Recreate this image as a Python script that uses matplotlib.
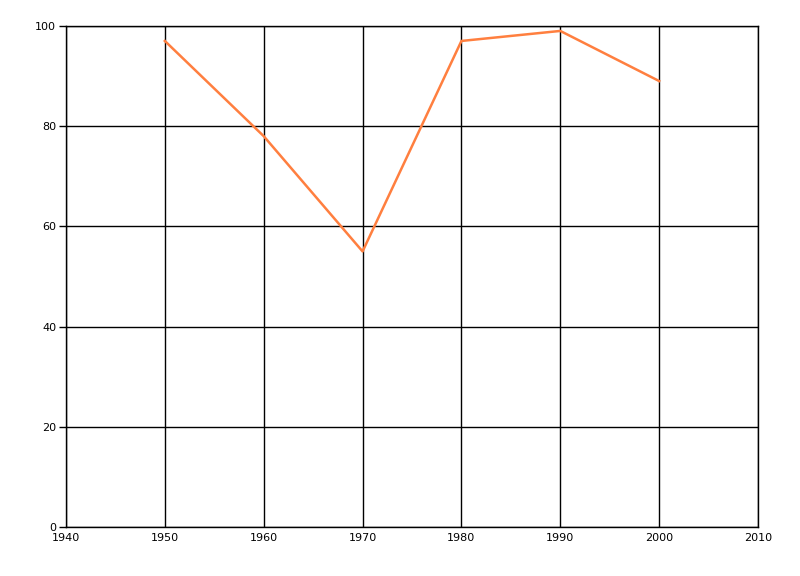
import matplotlib.pyplot as plt

years = [1950, 1960, 1970, 1980, 1990, 2000]
values = [97, 78, 55, 97, 99, 89]
x_ticks = [1940, 1950, 1960, 1970, 1980, 1990, 2000, 2010]
y_ticks = [0, 20, 40, 60, 80, 100]

plt.rcParams.update({'font.size': 8, 'font.family': 'DejaVu Sans'})

fig = plt.figure(figsize=(8, 5.76), dpi=100)
ax = fig.add_axes([0.0825, 0.085, 0.865, 0.87])

ax.plot(years, values, color='#ff7f3f', linewidth=1.8, zorder=3)

ax.set_xlim(1940, 2010)
ax.set_ylim(0, 100)
ax.set_xticks(x_ticks)
ax.set_yticks(y_ticks)
ax.grid(True, color='black', linewidth=1)
for s in ax.spines.values():
    s.set_color('black')
    s.set_linewidth(1)
ax.tick_params(axis='y', length=5, width=1, pad=2)
ax.tick_params(axis='x', length=0, pad=4)

fig.savefig('out.png')
